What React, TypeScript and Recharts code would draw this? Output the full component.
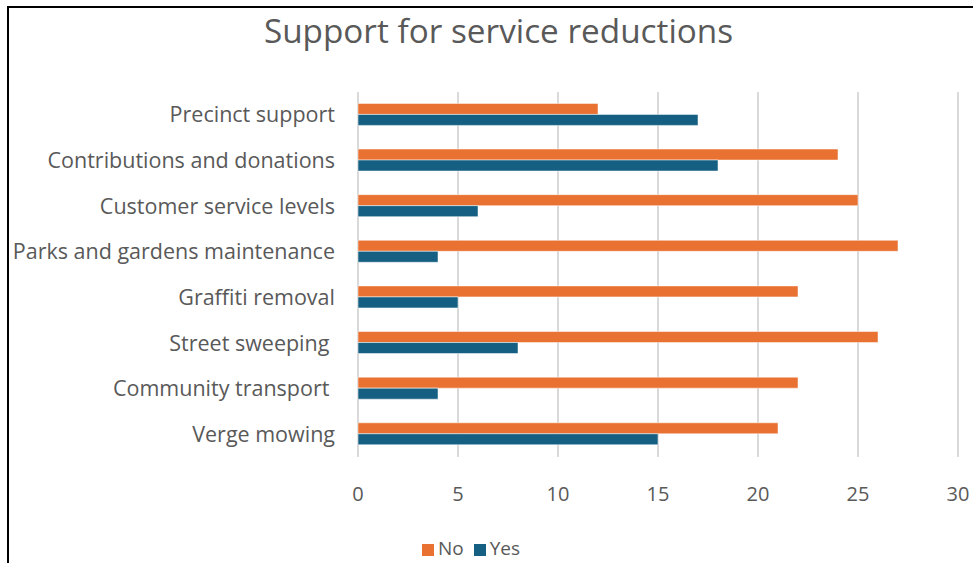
import React from "react";
import {
  BarChart,
  Bar,
  XAxis,
  YAxis,
  CartesianGrid,
  Legend,
} from "recharts";

const categories = [
  "Precinct support",
  "Contributions and donations",
  "Customer service levels",
  "Parks and gardens maintenance",
  "Graffiti removal",
  "Street sweeping\u00a0",
  "Community transport\u00a0",
  "Verge mowing",
];
const noValues = [12, 24, 25, 27, 22, 26, 22, 21];
const yesValues = [17, 18, 6, 4, 5, 8, 4, 15];
const xTicks = [0, 5, 10, 15, 20, 25, 30];

const data = categories.map((name, i) => ({
  name,
  No: noValues[i],
  Yes: yesValues[i],
}));

const FONT = "'Open Sans', 'Noto Sans', sans-serif";
const TEXT = "#595959";

export default function App() {
  return (
    <div
      style={{
        position: "fixed",
        left: 0,
        top: 0,
        width: 973,
        height: 563,
        overflow: "hidden",
        background: "#fff",
        fontFamily: FONT,
      }}
    >
      <div
        style={{
          position: "absolute",
          left: 7,
          top: 6,
          width: 1000,
          height: 600,
          borderLeft: "2px solid #000",
          borderTop: "2px solid #000",
        }}
      />
      <div
        style={{
          position: "absolute",
          left: 0,
          width: 997,
          top: 14,
          textAlign: "center",
          fontSize: 33.3,
          lineHeight: "33px",
          color: TEXT,
        }}
      >
        Support for service reductions
      </div>
      <div style={{ position: "absolute", left: 0, top: 0 }}>
        <BarChart
          width={980}
          height={563}
          data={data}
          layout="vertical"
          margin={{ top: 92, right: 22, bottom: 2, left: 0 }}
          barCategoryGap="25%"
          barGap={0}
        >
          <CartesianGrid
            horizontal={false}
            stroke="#d9d9d9"
            strokeWidth={2}
          />
          <XAxis
            type="number"
            domain={[0, 30]}
            ticks={xTicks}
            axisLine={false}
            tickLine={false}
            tickMargin={24}
            height={78}
            tick={{ fill: TEXT, fontSize: 20, fontFamily: FONT }}
          />
          <YAxis
            type="category"
            dataKey="name"
            width={358}
            axisLine={false}
            tickLine={false}
            tickMargin={17}
            tick={{ fill: TEXT, fontSize: 21.5, fontFamily: FONT }}
          />
          <Legend
            verticalAlign="bottom"
            iconType="square"
            iconSize={12}
            wrapperStyle={{ fontSize: 19, fontFamily: FONT, color: TEXT, left: -3 }}
            formatter={(v) => <span style={{ color: TEXT }}>{v}</span>}
          />
          <Bar
            dataKey="No"
            fill="#E97132"
            stroke="#fff"
            strokeWidth={0.5}
            isAnimationActive={false}
          />
          <Bar
            dataKey="Yes"
            fill="#156082"
            stroke="#fff"
            strokeWidth={0.5}
            isAnimationActive={false}
          />
        </BarChart>
      </div>
    </div>
  );
}
